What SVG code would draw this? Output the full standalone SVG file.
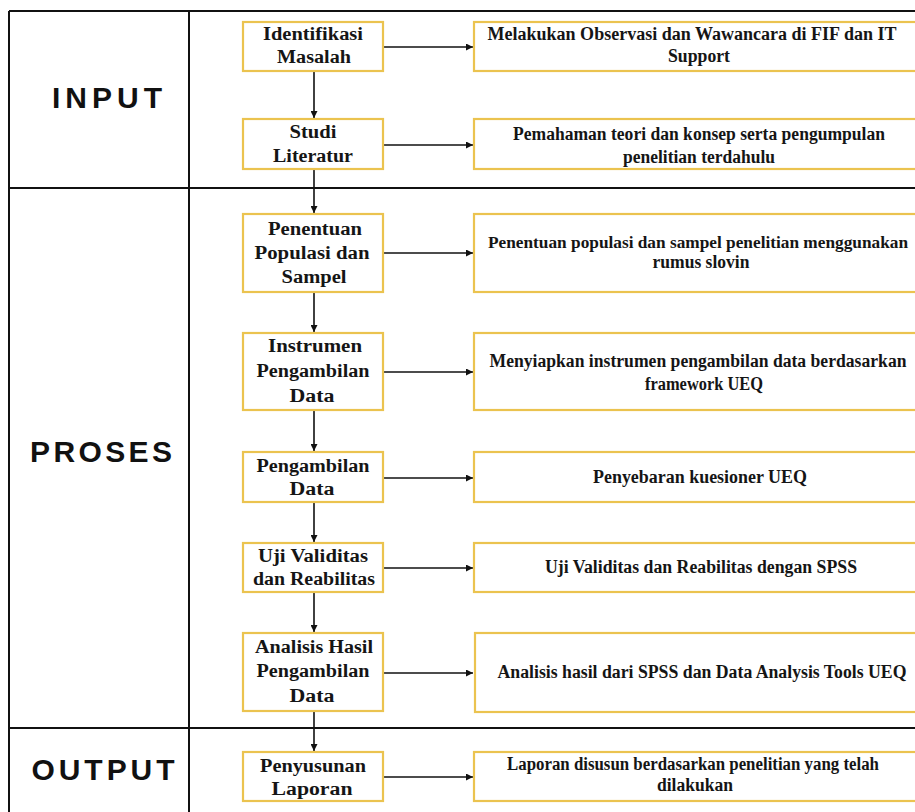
<svg xmlns="http://www.w3.org/2000/svg" width="915" height="812" viewBox="0 0 915 812">
<defs>
<marker id="ah" viewBox="0 0 10 10" refX="10" refY="5" markerWidth="7" markerHeight="7" markerUnits="userSpaceOnUse" orient="auto">
<path d="M0,0 L10,5 L0,10 z" fill="#111"/>
</marker>
<style>
.grid{stroke:#111;stroke-width:2;fill:none}
.box{fill:#fff;stroke:#EBC34F;stroke-width:2.2}
.t{font-family:"Liberation Serif","Times New Roman",serif;font-weight:bold;fill:#151515;text-anchor:middle}
.l{font-size:18px}
.r{font-size:18px}
.s{font-size:16.5px}
.sec{font-family:"Liberation Sans",Arial,sans-serif;font-weight:bold;font-size:30px;fill:#111;text-anchor:middle}
.c{stroke:#111;stroke-width:1.6;fill:none;marker-end:url(#ah)}
</style>
</defs>
<rect width="915" height="812" fill="#fff"/>
<g id="table">
<line class="grid" x1="9" y1="11" x2="915" y2="11"/>
<line class="grid" x1="9" y1="11" x2="9" y2="812"/>
<line class="grid" x1="189" y1="11" x2="189" y2="812"/>
<line class="grid" x1="9" y1="188" x2="915" y2="188"/>
<line class="grid" x1="9" y1="728" x2="915" y2="728" stroke-width="2.5"/>
<text class="sec" x="107" y="108" textLength="110" lengthAdjust="spacing">INPUT</text>
<text class="sec" x="101" y="462" textLength="142" lengthAdjust="spacing">PROSES</text>
<text class="sec" x="103" y="780" textLength="143" lengthAdjust="spacing">OUTPUT</text>
</g>
<g id="connectors">
<line class="c" x1="314" y1="71" x2="314" y2="118"/>
<line class="c" x1="314" y1="169" x2="314" y2="213"/>
<line class="c" x1="314" y1="292" x2="314" y2="332"/>
<line class="c" x1="314" y1="410" x2="314" y2="451"/>
<line class="c" x1="314" y1="502" x2="314" y2="542"/>
<line class="c" x1="314" y1="592" x2="314" y2="632"/>
<line class="c" x1="314" y1="711" x2="314" y2="751"/>
<line class="c" x1="383" y1="47" x2="473" y2="47"/>
<line class="c" x1="383" y1="145" x2="473" y2="145"/>
<line class="c" x1="383" y1="253" x2="473" y2="253"/>
<line class="c" x1="383" y1="372" x2="473" y2="372"/>
<line class="c" x1="383" y1="478" x2="473" y2="478"/>
<line class="c" x1="383" y1="568" x2="473" y2="568"/>
<line class="c" x1="383" y1="673" x2="473" y2="673"/>
<line class="c" x1="383" y1="777" x2="473" y2="777"/>
</g>
<g id="n1"><rect class="box" x="243" y="22" width="140" height="49"/>
<text class="t l" x="313" y="40" textLength="100" lengthAdjust="spacingAndGlyphs">Identifikasi</text>
<text class="t l" x="314" y="63" textLength="74" lengthAdjust="spacingAndGlyphs">Masalah</text></g>
<g id="n2"><rect class="box" x="243" y="119" width="140" height="50"/>
<text class="t l" x="313" y="138" textLength="47" lengthAdjust="spacingAndGlyphs">Studi</text>
<text class="t l" x="313" y="162" textLength="80" lengthAdjust="spacingAndGlyphs">Literatur</text></g>
<g id="n3"><rect class="box" x="243" y="214" width="140" height="78"/>
<text class="t l" x="315" y="235" textLength="94" lengthAdjust="spacingAndGlyphs">Penentuan</text>
<text class="t l" x="312" y="259" textLength="115" lengthAdjust="spacingAndGlyphs">Populasi dan</text>
<text class="t l" x="314" y="283" textLength="65" lengthAdjust="spacingAndGlyphs">Sampel</text></g>
<g id="n4"><rect class="box" x="243" y="333" width="140" height="77"/>
<text class="t l" x="315" y="352" textLength="94" lengthAdjust="spacingAndGlyphs">Instrumen</text>
<text class="t l" x="313" y="377" textLength="113" lengthAdjust="spacingAndGlyphs">Pengambilan</text>
<text class="t l" x="312" y="402" textLength="45" lengthAdjust="spacingAndGlyphs">Data</text></g>
<g id="n5"><rect class="box" x="243" y="452" width="140" height="50"/>
<text class="t l" x="313" y="472" textLength="113" lengthAdjust="spacingAndGlyphs">Pengambilan</text>
<text class="t l" x="312" y="495" textLength="45" lengthAdjust="spacingAndGlyphs">Data</text></g>
<g id="n6"><rect class="box" x="243" y="543" width="140" height="49"/>
<text class="t l" x="313" y="562" textLength="110" lengthAdjust="spacingAndGlyphs">Uji Validitas</text>
<text class="t l" x="314" y="585" textLength="122" lengthAdjust="spacingAndGlyphs">dan Reabilitas</text></g>
<g id="n7"><rect class="box" x="243" y="633" width="140" height="78"/>
<text class="t l" x="314" y="653" textLength="118" lengthAdjust="spacingAndGlyphs">Analisis Hasil</text>
<text class="t l" x="313" y="677" textLength="113" lengthAdjust="spacingAndGlyphs">Pengambilan</text>
<text class="t l" x="312" y="702" textLength="45" lengthAdjust="spacingAndGlyphs">Data</text></g>
<g id="n8"><rect class="box" x="243" y="752" width="140" height="49"/>
<text class="t l" x="313" y="772" textLength="106" lengthAdjust="spacingAndGlyphs">Penyusunan</text>
<text class="t l" x="312" y="795" textLength="81" lengthAdjust="spacingAndGlyphs">Laporan</text></g>
<g id="d1"><rect class="box" x="474" y="22" width="445" height="49"/>
<text class="t r" x="692" y="40" textLength="409" lengthAdjust="spacingAndGlyphs">Melakukan Observasi dan Wawancara di FIF dan IT</text>
<text class="t r" x="699" y="62" textLength="62" lengthAdjust="spacingAndGlyphs">Support</text></g>
<g id="d2"><rect class="box" x="474" y="119" width="445" height="50"/>
<text class="t r" x="699" y="140" textLength="372" lengthAdjust="spacingAndGlyphs">Pemahaman teori dan konsep serta pengumpulan</text>
<text class="t r" x="699" y="163" textLength="152" lengthAdjust="spacingAndGlyphs">penelitian terdahulu</text></g>
<g id="d3"><rect class="box" x="474" y="214" width="445" height="78"/>
<text class="t s" x="698" y="248" textLength="420" lengthAdjust="spacingAndGlyphs">Penentuan populasi dan sampel penelitian menggunakan</text>
<text class="t r" x="701" y="268" textLength="97" lengthAdjust="spacingAndGlyphs">rumus slovin</text></g>
<g id="d4"><rect class="box" x="474" y="333" width="445" height="77"/>
<text class="t r" x="698" y="367" textLength="417" lengthAdjust="spacingAndGlyphs">Menyiapkan instrumen pengambilan data berdasarkan</text>
<text class="t r" x="704" y="390" textLength="118" lengthAdjust="spacingAndGlyphs">framework UEQ</text></g>
<g id="d5"><rect class="box" x="474" y="452" width="445" height="50"/>
<text class="t r" x="700" y="483" textLength="214" lengthAdjust="spacingAndGlyphs">Penyebaran kuesioner UEQ</text></g>
<g id="d6"><rect class="box" x="474" y="543" width="445" height="49"/>
<text class="t r" x="701" y="573" textLength="312" lengthAdjust="spacingAndGlyphs">Uji Validitas dan Reabilitas dengan SPSS</text></g>
<g id="d7"><rect class="box" x="475" y="633" width="445" height="79"/>
<text class="t r" x="702" y="678" textLength="409" lengthAdjust="spacingAndGlyphs">Analisis hasil dari SPSS dan Data Analysis Tools UEQ</text></g>
<g id="d8"><rect class="box" x="474" y="752" width="445" height="49"/>
<text class="t r" x="693" y="770" textLength="372" lengthAdjust="spacingAndGlyphs">Laporan disusun berdasarkan penelitian yang telah</text>
<text class="t r" x="695" y="791" textLength="76" lengthAdjust="spacingAndGlyphs">dilakukan</text></g>
</svg>
